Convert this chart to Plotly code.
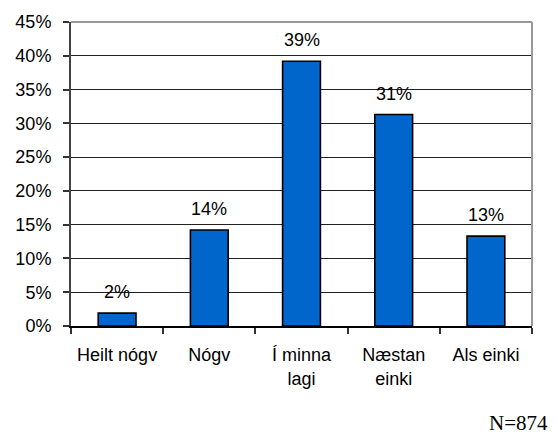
import plotly.graph_objects as go

categories = ["Heilt nógv", "Nógv", "Í minna<br>lagi", "Næstan<br>einki", "Als einki"]
values = [1.9, 14.2, 39.2, 31.3, 13.3]
labels = ["2%", "14%", "39%", "31%", "13%"]
y_ticks = [0, 5, 10, 15, 20, 25, 30, 35, 40, 45]
y_tick_text = [f"{v}%" for v in y_ticks]
note = "N=874"

FONT = "Liberation Sans, Arial, sans-serif"

fig = go.Figure()
fig.add_trace(go.Bar(
    x=categories, y=values,
    marker=dict(color="#0066CC", line=dict(color="#000000", width=1.6)),
    hoverinfo="skip",
))

for c, v, t in zip(categories, values, labels):
    fig.add_annotation(x=c, y=v, text=t, showarrow=False, xref="x", yref="y",
                       yanchor="middle", yshift=21,
                       font=dict(family=FONT, size=18, color="#000"))

fig.add_annotation(x=1.039, y=-0.318, xref="paper", yref="paper", text=note,
                   showarrow=False, xanchor="right", yanchor="middle",
                   font=dict(family="Liberation Serif, Times New Roman, serif", size=21, color="#000"))

# gray frame on top and right
fig.add_shape(type="line", xref="x domain", yref="y domain", x0=0, x1=1, y0=1, y1=1,
              line=dict(color="#999999", width=2), layer="above")
fig.add_shape(type="line", xref="x domain", yref="y domain", x0=1, x1=1, y0=0, y1=1,
              line=dict(color="#999999", width=2), layer="above")

fig.update_layout(
    width=559, height=436,
    margin=dict(l=71, r=27, t=17, b=110),
    paper_bgcolor="white", plot_bgcolor="white",
    bargap=0.59,
    showlegend=False,
    font=dict(family=FONT, size=18, color="#000"),
    xaxis=dict(
        type="category", range=[-0.5, 4.5],
        showline=True, linecolor="#000", linewidth=1.5,
        ticks="outside", tickson="boundaries", ticklen=6, tickcolor="#333", tickwidth=1.5,
        showgrid=False, ticklabelstandoff=12,
        tickfont=dict(family=FONT, size=18, color="#000"),
    ),
    yaxis=dict(
        range=[0, 45], tickvals=y_ticks, ticktext=y_tick_text,
        showline=True, linecolor="#444", linewidth=2,
        ticks="outside", ticklen=6, tickcolor="#333", tickwidth=1.5,
        showgrid=True, gridcolor="#222", gridwidth=1,
        zeroline=False, ticklabelstandoff=8,
        tickfont=dict(family=FONT, size=18, color="#000"),
    ),
)

fig.write_html("out.html", config={"displayModeBar": False},
               post_script="document.body.style.margin='0';document.body.style.padding='0';")
